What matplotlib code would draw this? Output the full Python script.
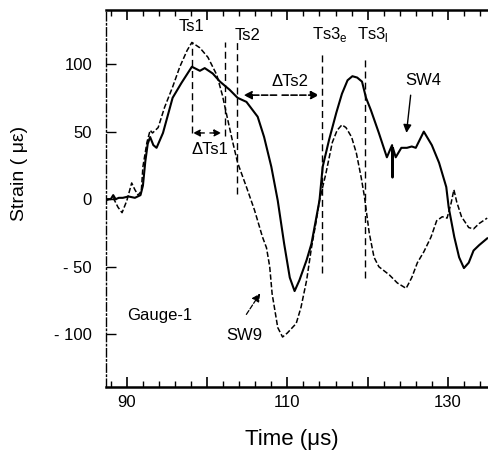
import matplotlib
matplotlib.use("Agg")
import matplotlib.pyplot as plt
from matplotlib.ticker import MultipleLocator, FixedLocator

plt.rcParams['font.family'] = ['Liberation Sans', 'DejaVu Sans']

# SW4 (solid) trace
sw4_t = [87.4, 88.0, 88.3, 88.6, 89.0, 89.5, 90.2, 91.0, 91.7, 92.0, 92.3, 92.6, 92.9,
         93.3, 93.7, 94.5, 95.7, 96.8, 98.1, 99.1, 99.7, 100.7, 101.6, 102.8, 103.8,
         104.9, 106.3, 107.1, 108.0, 108.8, 109.6, 110.3, 110.9, 111.5, 112.4, 113.0,
         114.0, 114.4, 115.2, 116.1, 116.8, 117.5, 118.1, 118.7, 119.3, 119.8, 120.4,
         121.4, 122.4, 122.9, 123.05, 123.1, 123.15, 123.5, 124.2, 124.9, 125.5, 126.0,
         127.0, 128.0, 128.9, 129.8, 130.1, 130.8, 131.4, 132.0, 132.6, 133.2, 133.9, 134.9]
sw4_v = [0, 0, 3, 0, 1, 1, 2, 1, 3, 10, 28, 41, 46,
         40, 38, 49, 75, 86, 98, 95, 97, 93, 87, 81, 75,
         72, 61, 46, 24, -1, -33, -58, -68, -60, -45, -33,
         -1, 24, 44, 64, 78, 88, 91, 90, 87, 75, 66,
         49, 31, 38, 40, 16, 38, 31, 38, 38, 39, 38,
         50, 40, 27, 9, -6, -28, -43, -51, -47, -38, -34, -29]

# SW9 (dashed) trace
sw9_t = [87.4, 88.3, 88.9, 89.4, 90.0, 90.6, 91.0, 91.4, 91.8, 92.0, 92.5, 92.9, 93.2,
         93.9, 94.7, 95.7, 96.6, 97.5, 98.1, 99.1, 100.1, 101.2, 101.9, 102.6, 103.2,
         103.8, 104.9, 105.9, 106.9, 107.4, 107.8, 108.1, 108.8, 109.4, 110.0, 111.1,
         111.7, 112.4, 113.0, 113.6, 114.0, 114.8, 115.6, 116.2, 116.8, 117.3, 118.0,
         118.6, 119.2, 119.6, 120.2, 120.8, 121.4, 122.7, 123.7, 124.8, 125.5, 126.2,
         127.0, 127.9, 128.6, 129.3, 129.9, 130.4, 130.75, 131.1, 131.7, 132.6, 133.2,
         133.9, 134.9]
sw9_v = [-1, 1, -6, -10, -1, 12, 7, 3, 6, 24, 42, 51, 49,
         53, 68, 83, 98, 110, 116, 112, 105, 92, 77, 58, 42,
         27, 9, -8, -28, -36, -50, -70, -95, -102, -99, -92,
         -80, -60, -36, -16, -1, 19, 42, 51, 55, 53, 46,
         34, 16, 2, -25, -43, -50, -56, -62, -66, -58, -47,
         -39, -28, -16, -13, -14, -3, 7, -2, -13, -21, -22,
         -18, -14]

# timing markers: (time, y_top, y_bottom)
marker_t = [98.1, 102.2, 103.7, 114.35, 119.7]
marker_top = [116, 116, 116, 110, 104]
marker_bot = [49, 47, 4, -55, -58]

fig = plt.figure(figsize=(4.88, 4.66), dpi=100)
ax = fig.add_axes([106/488, 1-387/466, 1-106/488, (387-10)/466])

ax.plot(sw9_t, sw9_v, color='black', lw=1.1, linestyle=(0, (3.5, 1.5)))
ax.plot(sw4_t, sw4_v, color='black', lw=1.5)

for t, y0, y1 in zip(marker_t, marker_top, marker_bot):
    ax.plot([t, t], [y1, y0], color='black', lw=1.0, linestyle=(0, (5, 3)))

ax.set_xlim(87.4, 135)
ax.set_ylim(-139, 140)

# arrows
ax.annotate('', xy=(97.9, 49), xytext=(100.0, 49),
            arrowprops=dict(arrowstyle='-|>', color='black', lw=1.0, linestyle='--',
                            mutation_scale=10))
ax.annotate('', xy=(102.1, 49), xytext=(100.0, 49),
            arrowprops=dict(arrowstyle='-|>', color='black', lw=1.0, linestyle='--',
                            mutation_scale=10))
ax.annotate('', xy=(104.2, 77), xytext=(109.0, 77),
            arrowprops=dict(arrowstyle='-|>', color='black', lw=1.2, linestyle='--',
                            mutation_scale=12))
ax.annotate('', xy=(114.3, 77), xytext=(109.0, 77),
            arrowprops=dict(arrowstyle='-|>', color='black', lw=1.2, linestyle='--',
                            mutation_scale=12))
ax.annotate('', xy=(124.8, 47), xytext=(125.4, 79),
            arrowprops=dict(arrowstyle='-|>', color='black', lw=1.0, mutation_scale=12))
ax.annotate('', xy=(106.8, -68), xytext=(104.7, -87),
            arrowprops=dict(arrowstyle='-|>', color='black', lw=0.9, linestyle='--',
                            mutation_scale=12))

fs = 12
ax.text(98.1, 128, 'Ts1', ha='center', va='center', fontsize=fs)
ax.text(105.0, 121, 'Ts2', ha='center', va='center', fontsize=fs)
ax.text(100.3, 37, 'ΔTs1', ha='center', va='center', fontsize=fs)
ax.text(110.3, 87, 'ΔTs2', ha='center', va='center', fontsize=fs)
ax.text(115.3, 122, r'Ts3$_\mathregular{e}$', ha='center', va='center', fontsize=fs)
ax.text(120.7, 122, r'Ts3$_\mathregular{l}$', ha='center', va='center', fontsize=fs)
ax.text(126.9, 88, 'SW4', ha='center', va='center', fontsize=fs)
ax.text(104.7, -101, 'SW9', ha='center', va='center', fontsize=fs)
ax.text(94.1, -86, 'Gauge-1', ha='center', va='center', fontsize=fs)

# ticks
ax.xaxis.set_major_locator(FixedLocator([90, 100, 110, 120, 130]))
ax.xaxis.set_minor_locator(MultipleLocator(2))
ax.set_xticklabels(['90', '', '110', '', '130'])
ax.set_yticks([-100, -50, 0, 50, 100])
ax.set_yticklabels(['- 100', '- 50', '0', '50', '100'])
ax.tick_params(axis='x', which='major', direction='in', length=7, width=1.2,
               top=True, labelsize=12, pad=6)
ax.tick_params(axis='x', which='minor', direction='in', length=4, width=1.0, top=True)
ax.tick_params(axis='y', which='major', direction='in', length=7, width=1.0,
               labelsize=12, pad=10)

for s in ['top', 'bottom']:
    ax.spines[s].set_linewidth(1.8)
ax.spines['right'].set_visible(False)
ax.spines['left'].set_linewidth(1.0)
ax.spines['left'].set_linestyle((0, (6, 2, 1, 2)))

fig.text(292/488, 1-440/466, 'Time (μs)', ha='center', va='center', fontsize=16)
fig.text(20/488, 1-173/466, 'Strain ( με)', ha='center', va='center', fontsize=14,
         rotation=90)

fig.savefig('out.png', dpi=100)
